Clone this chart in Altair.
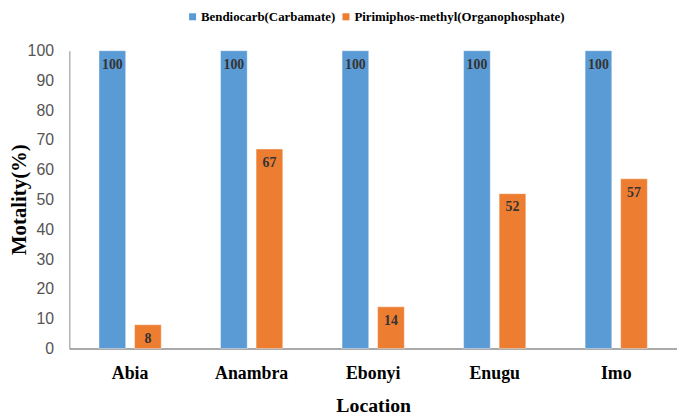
import altair as alt
import pandas as pd

locations = ["Abia", "Anambra", "Ebonyi", "Enugu", "Imo"]
series = ["Bendiocarb(Carbamate)", "Pirimiphos-methyl(Organophosphate)"]
bendiocarb = [100, 100, 100, 100, 100]
pirimiphos = [8, 67, 14, 52, 57]
y_ticks = [0, 10, 20, 30, 40, 50, 60, 70, 80, 90, 100]
colors = ["#5B9BD5", "#ED7D31"]

rows = []
for i, loc in enumerate(locations):
    rows.append({"Location": loc, "Insecticide": series[0], "Value": bendiocarb[i]})
    rows.append({"Location": loc, "Insecticide": series[1], "Value": pirimiphos[i]})
df = pd.DataFrame(rows)

serif = "Liberation Serif"
sans = "Liberation Sans"

x_axis = alt.Axis(title="Location", labelAngle=0, labelFont=serif, labelFontWeight="bold",
                  labelFontSize=18, labelColor="#000000", labelPadding=16, ticks=False,
                  domainColor="#8c8c8c", domainWidth=1.5,
                  titleFont=serif, titleFontSize=20, titleFontWeight="bold",
                  titleColor="#000000", titlePadding=14)
y_axis = alt.Axis(title="Motality(%)", values=y_ticks, tickCount=11, grid=False,
                  labelOverlap=False, labelBound=False, labelFlush=False,
                  ticks=True, tickSize=0, labelFont=sans, labelFontSize=16,
                  labelColor="#555555", labelPadding=16, domainColor="#8c8c8c", domainWidth=1,
                  titleFont=serif, titleFontSize=21, titleFontWeight="bold",
                  titleColor="#000000", titleX=-40, titleY=150)

x = alt.X("Location:N", sort=locations,
          scale=alt.Scale(paddingInner=0.488, paddingOuter=0.244), axis=x_axis)
xo = alt.XOffset("Insecticide:N", sort=series,
                 scale=alt.Scale(paddingInner=0.25, paddingOuter=0))
y = alt.Y("Value:Q", scale=alt.Scale(domain=[0, 100], nice=False), axis=y_axis)

bars = alt.Chart(df).mark_bar(stroke="#ffffff", strokeOpacity=0.4, strokeWidth=1).encode(
    x=x, xOffset=xo, y=y,
    color=alt.Color("Insecticide:N", sort=series,
                    scale=alt.Scale(domain=series, range=colors),
                    legend=alt.Legend(title=None, orient="none", direction="horizontal",
                                      legendX=118, legendY=-41, symbolType="square",
                                      symbolSize=50, symbolStrokeWidth=0,
                                      labelFont=serif, labelFontSize=13, labelFontWeight="bold",
                                      labelColor="#000000", labelLimit=400, columnPadding=4,
                                      symbolOffset=0, labelOffset=2)),
)

text = alt.Chart(df).mark_text(baseline="middle", dy=14, font=serif, fontWeight="bold",
                               fontSize=14, color="#333333").encode(
    x=x, xOffset=xo, y=y, text="Value:Q")

chart = (bars + text).properties(
    width=614, height=301,
    autosize=alt.AutoSizeParams(type="none"),
    padding={"left": 62, "top": 41, "right": 0, "bottom": 66},
).configure_view(stroke=None).configure_axis(labelOverlap=False)

chart.save("out.html", embed_options={"renderer": "svg", "actions": False})
